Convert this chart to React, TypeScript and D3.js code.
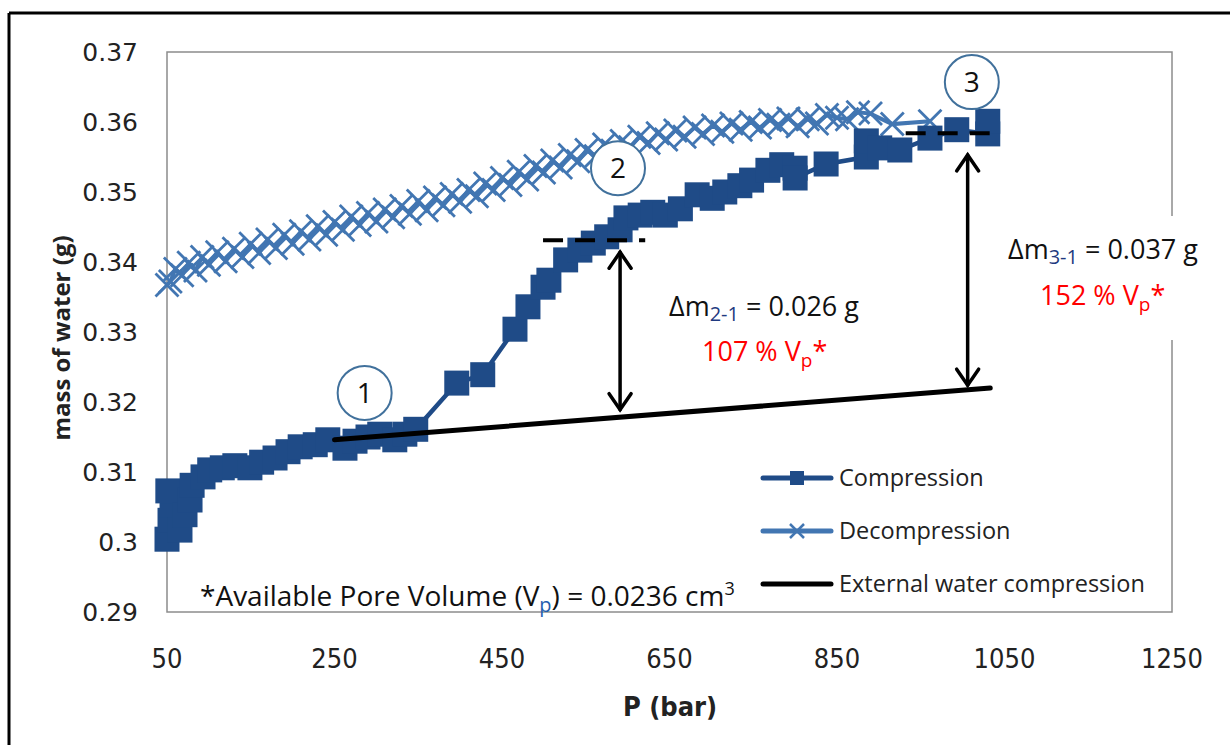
import React from "react";
import * as d3 from "d3";

const W = 1230;
const H = 745;

const xTicks = [50, 250, 450, 650, 850, 1050, 1250];
const yTicks = [0.29, 0.3, 0.31, 0.32, 0.33, 0.34, 0.35, 0.36, 0.37];

const compP = [50, 53.6, 56, 51, 65.5, 71.5, 77.5, 80, 93, 101, 116, 131, 149, 163, 179, 194.5, 209, 227, 242, 262.5, 274.5, 290, 304, 322, 334, 347, 396, 427, 465.5, 481, 499, 506, 526, 543, 559, 575, 591, 598, 615, 630, 645, 663, 683, 701, 716, 734, 748, 767.5, 784, 800, 800, 837, 885, 885, 901, 925, 961, 993, 1030, 1030];
const compM = [0.3004, 0.3031, 0.3053, 0.3073, 0.3017, 0.3039, 0.306, 0.3081, 0.3093, 0.3103, 0.3106, 0.3109, 0.3106, 0.3114, 0.312, 0.3129, 0.3136, 0.3139, 0.3146, 0.3134, 0.3144, 0.315, 0.3154, 0.3146, 0.3154, 0.3161, 0.3227, 0.3239, 0.3304, 0.3336, 0.3364, 0.3374, 0.3403, 0.3417, 0.3427, 0.3436, 0.3446, 0.3463, 0.3467, 0.3471, 0.3467, 0.3476, 0.3496, 0.3491, 0.35, 0.3509, 0.3517, 0.3531, 0.3539, 0.3534, 0.352, 0.354, 0.355, 0.3573, 0.3563, 0.356, 0.3577, 0.3589, 0.3583, 0.3601];

const decP = [961, 916, 890, 875, 862, 850, 838, 826, 815, 803, 792, 780, 770, 758, 747, 735, 724, 713, 702, 690, 680, 668, 657, 646, 636, 625, 614, 603, 593, 582, 572, 562, 551, 541, 531, 520, 510, 500, 490, 480, 470, 460, 450, 440, 430, 420, 410, 400, 390, 380, 370, 360, 350, 340, 330, 320, 310, 300, 290, 280, 270, 260, 250, 240, 230, 220, 210, 200, 190, 180, 170, 160, 150, 140, 130, 120, 110, 100, 92, 84, 76, 68, 60, 54, 50];
const decM = [0.3601, 0.3597, 0.3612, 0.3614, 0.3604, 0.3606, 0.361, 0.3598, 0.3604, 0.3594, 0.3605, 0.3596, 0.3603, 0.3592, 0.36, 0.3589, 0.3598, 0.3586, 0.3595, 0.3583, 0.3592, 0.3579, 0.3588, 0.3575, 0.3584, 0.357, 0.3579, 0.3564, 0.3573, 0.3559, 0.3568, 0.3551, 0.356, 0.3544, 0.3553, 0.3535, 0.3545, 0.3528, 0.3537, 0.3518, 0.3529, 0.351, 0.352, 0.3503, 0.3512, 0.3494, 0.3503, 0.3486, 0.3497, 0.3481, 0.3492, 0.3474, 0.3487, 0.3469, 0.348, 0.3464, 0.3475, 0.3458, 0.347, 0.3453, 0.3465, 0.3446, 0.3457, 0.3439, 0.3451, 0.3432, 0.3444, 0.3426, 0.3439, 0.342, 0.3432, 0.3413, 0.3426, 0.3407, 0.3419, 0.3401, 0.3414, 0.3396, 0.3407, 0.3388, 0.3399, 0.3381, 0.339, 0.3372, 0.3367];

const extP = [250, 1033];
const extM = [0.3146, 0.322];

const legendLabels = ["Compression", "Decompression", "External water compression"];

const COMP = "#1F4B87";
const DEC = "#4276B2";
const CIRC = "#41719C";

export default function App() {
  const x = d3.scaleLinear().domain([50, 1250]).range([167, 1172]);
  const y = d3.scaleLinear().domain([0.29, 0.37]).range([612, 52]);

  const comp = compP.map((p, i) => [p, compM[i]] as [number, number]);
  const dec = decP.map((p, i) => [p, decM[i]] as [number, number]);
  const ext = extP.map((p, i) => [p, extM[i]] as [number, number]);
  const line = d3.line<[number, number]>().x((d) => x(d[0])).y((d) => y(d[1]));

  const sq = 25;
  const xs = 11.5;
  const xPath = (cx: number, cy: number, s: number) =>
    `M${cx - s},${cy - s}L${cx + s},${cy + s}M${cx - s},${cy + s}L${cx + s},${cy - s}`;

  const arrowHead = (ax: number, ay: number, dir: number) =>
    `M${ax - 11},${ay + dir * 16}L${ax},${ay}L${ax + 11},${ay + dir * 16}`;

  const a2x = x(591), a2t = y(0.3414), a2b = y(0.3189);
  const a3x = x(1006), a3t = y(0.3553), a3b = y(0.3224);

  const circles = [
    { p: 286, m: 0.3213, t: "1" },
    { p: 588.5, m: 0.3534, t: "2" },
    { p: 1011, m: 0.3657, t: "3" },
  ];

  const font = "'Open Sans', 'Noto Sans', sans-serif";
  const cond = "'DejaVu Sans Condensed', 'DejaVu Sans', sans-serif";

  return (
    <svg width={W} height={H} style={{ position: "absolute", left: 0, top: 0, background: "#fff" }}>
      <rect x={0} y={0} width={W} height={H} fill="#fff" />
      <line x1={9} y1={13} x2={W} y2={13} stroke="#000" strokeWidth={3} />
      <line x1={9} y1={13} x2={9} y2={H} stroke="#000" strokeWidth={3} />

      {/* plot frame */}
      <rect x={x(50)} y={y(0.37)} width={x(1250) - x(50)} height={y(0.29) - y(0.37)} fill="none" stroke="#8c8c8c" strokeWidth={1.5} />

      {/* y ticks */}
      {yTicks.map((t) => (
        <text key={t} x={138} y={y(t) + 9} textAnchor="end" fontFamily="'DejaVu Sans', sans-serif" fontSize={25} fill="#222">
          {d3.format("")(t)}
        </text>
      ))}
      {/* x ticks */}
      {xTicks.map((t) => (
        <text key={t} x={x(t)} y={668} textAnchor="middle" fontFamily={cond} fontSize={27} fill="#222">
          {t}
        </text>
      ))}
      <text x={670} y={716} textAnchor="middle" fontFamily={cond} fontWeight="bold" fontSize={27} fill="#222">
        P (bar)
      </text>
      <text transform={`translate(70,338) rotate(-90)`} textAnchor="middle" fontFamily={font} fontWeight="bold" fontSize={24} fill="#222">
        mass of water (g)
      </text>

      {/* white box behind delta 3-1 text */}
      <rect x={1000} y={216} width={215} height={124} fill="#fff" />

      {/* decompression */}
      <path d={line(dec) || ""} fill="none" stroke={DEC} strokeWidth={4} />
      {dec.map((d, i) => (
        <path key={i} d={xPath(x(d[0]), y(d[1]), xs)} stroke={DEC} strokeWidth={2.8} fill="none" />
      ))}

      {/* compression */}
      <path d={line(comp) || ""} fill="none" stroke={COMP} strokeWidth={4.5} />
      {comp.map((d, i) => (
        <rect key={i} x={x(d[0]) - sq / 2} y={y(d[1]) - sq / 2} width={sq} height={sq} fill={COMP} />
      ))}

      {/* external water compression */}
      <path d={line(ext) || ""} fill="none" stroke="#000" strokeWidth={5} strokeLinecap="round" />

      {/* dashed levels */}
      <line x1={x(499)} x2={x(621)} y1={y(0.3431)} y2={y(0.3431)} stroke="#000" strokeWidth={4} strokeDasharray="20,12" />
      <line x1={x(932)} x2={x(1044)} y1={y(0.3584)} y2={y(0.3584)} stroke="#000" strokeWidth={4} strokeDasharray="20,12" />

      {/* arrows */}
      <g stroke="#000" strokeWidth={3.5} fill="none" strokeLinecap="round">
        <line x1={a2x} x2={a2x} y1={a2t} y2={a2b} />
        <path d={arrowHead(a2x, a2t, 1)} />
        <path d={arrowHead(a2x, a2b, -1)} />
        <line x1={a3x} x2={a3x} y1={a3t} y2={a3b} />
        <path d={arrowHead(a3x, a3t, 1)} />
        <path d={arrowHead(a3x, a3b, -1)} />
      </g>

      {/* circle labels */}
      {circles.map((c) => (
        <g key={c.t}>
          <circle cx={x(c.p)} cy={y(c.m)} r={27} fill="#fff" stroke={CIRC} strokeWidth={2} />
          <text x={x(c.p)} y={y(c.m) + 10} textAnchor="middle" fontFamily={font} fontSize={28} fill="#111">
            {c.t}
          </text>
        </g>
      ))}

      {/* delta annotations */}
      <text x={669} y={316} fontFamily={font} fontSize={27} fill="#111">
        Δm<tspan fontSize={20} dy={5} fill="#1F3A80">2-1</tspan><tspan dy={-5}> = 0.026 g</tspan>
      </text>
      <text x={702} y={361} fontFamily={font} fontSize={27} fill="#FF0000">
        107 % V<tspan fontSize={19} dy={6}>p</tspan><tspan dy={-6}>*</tspan>
      </text>
      <text x={1008} y={259} fontFamily={font} fontSize={27} fill="#111">
        Δm<tspan fontSize={20} dy={5} fill="#1F3A80">3-1</tspan><tspan dy={-5}> = 0.037 g</tspan>
      </text>
      <text x={1040} y={305} fontFamily={font} fontSize={27} fill="#FF0000">
        152 % V<tspan fontSize={19} dy={6}>p</tspan><tspan dy={-6}>*</tspan>
      </text>

      {/* pore volume note */}
      <text x={200} y={606} fontFamily={font} fontSize={28} fill="#111">
        *Available Pore Volume (V<tspan fontSize={20} dy={6} fill="#1F5FAF">p</tspan><tspan dy={-6}>) = 0.0236 cm</tspan><tspan fontSize={18} dy={-11}>3</tspan>
      </text>

      {/* legend */}
      {legendLabels.map((lab, i) => {
        const ly = 478 + i * 53;
        const color = i === 0 ? COMP : i === 1 ? DEC : "#000";
        return (
          <g key={lab}>
            <line x1={763} x2={831} y1={ly} y2={ly} stroke={color} strokeWidth={5} strokeLinecap="round" />
            {i === 0 && <rect x={797 - 7} y={ly - 7} width={14} height={14} fill={COMP} />}
            {i === 1 && <path d={xPath(797, ly, 7)} stroke={DEC} strokeWidth={2.5} />}
            <text x={839} y={ly + 8} fontFamily={font} fontSize={23.5} fill="#222">
              {lab}
            </text>
          </g>
        );
      })}
    </svg>
  );
}
